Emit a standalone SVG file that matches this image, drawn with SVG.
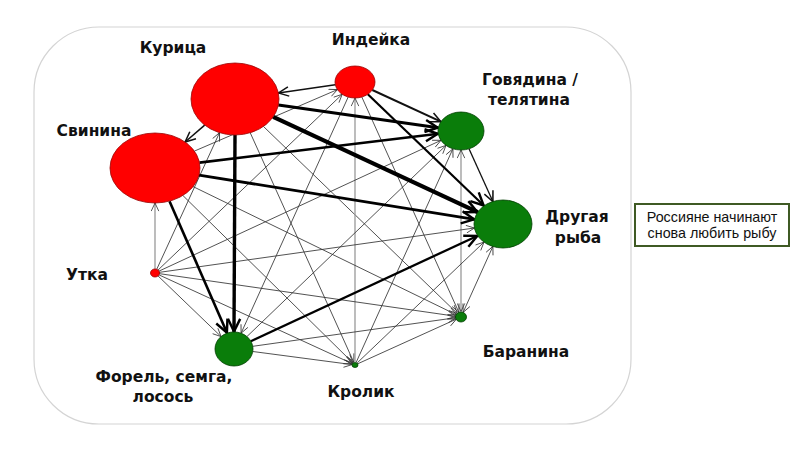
<svg xmlns="http://www.w3.org/2000/svg" width="800" height="450" viewBox="0 0 800 450">
<defs>
<style>
.lbl{font-family:"DejaVu Sans","Liberation Sans",sans-serif;font-weight:bold;font-size:15.5px;fill:#111;text-anchor:middle}
.note{font-family:"Liberation Sans",Arial,sans-serif;font-size:14.3px;fill:#111;text-anchor:middle}
.red{fill:#ff0000;stroke:#990000;stroke-width:0.8}
.grn{fill:#0a7d0a;stroke:#003d00;stroke-width:0.8}
.t{stroke:#333;stroke-width:0.85;fill:none;marker-end:url(#ms)}
.g{stroke:#999;stroke-width:1.3;fill:none;marker-end:url(#ms)}
.m{stroke:#111;fill:none;marker-end:url(#mm)}
.k{stroke:#000;fill:none;marker-end:url(#ml)}
</style>
<marker id="ms" viewBox="0 0 10 10" refX="9.5" refY="5" markerWidth="9" markerHeight="9" markerUnits="userSpaceOnUse" orient="auto-start-reverse"><path d="M0.5,0.8 L9.5,5 L0.5,9.2" fill="none" stroke="#333" stroke-width="0.9"/></marker>
<marker id="mm" viewBox="0 0 14 14" refX="13" refY="7" markerWidth="12" markerHeight="12" markerUnits="userSpaceOnUse" orient="auto"><path d="M1,1.5 L13,7 L1,12.5" fill="none" stroke="#111" stroke-width="1.8"/></marker>
<marker id="ml" viewBox="0 0 16 16" refX="15" refY="8" markerWidth="15" markerHeight="15" markerUnits="userSpaceOnUse" orient="auto"><path d="M1,1.5 L14.5,8 L1,14.5" fill="none" stroke="#000" stroke-width="2.6"/></marker>
</defs>
<rect width="800" height="450" fill="#fff"/>
<rect id="frame" x="34" y="27" width="597" height="397" rx="65" ry="65" fill="none" stroke="#d4d4d4" stroke-width="1.2"/>
<g id="connectors">
<line class="t" x1="263.4" y1="126.4" x2="457.4" y2="313.5"/>
<line class="t" x1="250.2" y1="132.7" x2="353.8" y2="362.3"/>
<line class="t" x1="156.7" y1="269.4" x2="219.5" y2="132.7"/>
<line class="t" x1="194.4" y1="151.1" x2="337.4" y2="89.6"/>
<line class="t" x1="157.9" y1="270.2" x2="342.2" y2="94.3"/>
<line class="t" x1="348.2" y1="97" x2="241.1" y2="333.2"/>
<line class="g" x1="355" y1="362" x2="355" y2="98"/>
<line class="t" x1="361.8" y1="97" x2="458.9" y2="312.4"/>
<line class="t" x1="158.6" y1="271.3" x2="441" y2="140.3"/>
<line class="t" x1="246.9" y1="336.6" x2="446" y2="145.4"/>
<line class="t" x1="356.2" y1="362.3" x2="452.9" y2="148.8"/>
<line class="g" x1="461" y1="311.5" x2="461" y2="150" style="marker-start:url(#ms)"/>
<line class="g" x1="155" y1="269" x2="155" y2="203"/>
<line class="t" x1="182.9" y1="195.5" x2="352.9" y2="362.9"/>
<line class="t" x1="193.1" y1="186.6" x2="456.5" y2="314.8"/>
<line class="t" x1="159" y1="272.4" x2="474.4" y2="228"/>
<line class="t" x1="357.2" y1="362.9" x2="484" y2="242.1"/>
<line class="t" x1="463.1" y1="312.4" x2="492.9" y2="246.4" style="marker-start:url(#ms)"/>
<line class="t" x1="157.9" y1="275.8" x2="221.1" y2="336.6"/>
<line class="t" x1="158.6" y1="274.7" x2="352.3" y2="363.7"/>
<line class="t" x1="159" y1="273.6" x2="456" y2="316.3"/>
<line class="t" x1="252.8" y1="351.5" x2="352" y2="364.6"/>
<line class="t" x1="252.8" y1="346.3" x2="456" y2="317.7"/>
<line class="t" x1="357.7" y1="363.8" x2="456.4" y2="319.1"/>
<line class="m" stroke-width="1.5" x1="335.3" y1="84.8" x2="278.4" y2="92.9"/>
<line class="m" stroke-width="1.5" x1="204.7" y1="125.1" x2="185.1" y2="142"/>
<line class="m" stroke-width="1.3" x1="469" y1="148.8" x2="492.9" y2="201.6"/>
<line class="m" stroke-width="2" x1="372.3" y1="90" x2="440.9" y2="121.7"/>
<line class="k" stroke-width="2.2" x1="367.8" y1="94.3" x2="484" y2="205.8"/>
<line class="k" stroke-width="2.3" x1="250.9" y1="341.2" x2="477.7" y2="235.7"/>
<line class="k" stroke-width="2.6" x1="199.5" y1="162.6" x2="438.3" y2="133.7"/>
<line class="k" stroke-width="2.8" x1="199" y1="175.1" x2="474.6" y2="219.4"/>
<line class="k" stroke-width="2.6" x1="169.5" y1="201.2" x2="227.1" y2="333.1"/>
<line class="k" stroke-width="3" x1="278.4" y1="105.1" x2="438.3" y2="127.8"/>
<line class="k" stroke-width="3.4" x1="235" y1="135" x2="234" y2="332"/>
<line class="k" stroke-width="4.2" x1="273.2" y1="116.9" x2="477.7" y2="212.2"/>
</g>
<g id="kuritsa"><ellipse class="red" cx="235" cy="99" rx="44" ry="36"/><text class="lbl" x="173" y="53">Курица</text></g>
<g id="indeyka"><ellipse class="red" cx="355" cy="82" rx="20" ry="16"/><text class="lbl" x="371" y="45">Индейка</text></g>
<g id="govyadina"><ellipse class="grn" cx="461" cy="131" rx="23" ry="19"/><text class="lbl" x="530" y="85">Говядина /</text><text class="lbl" x="529" y="105">телятина</text></g>
<g id="svinina"><ellipse class="red" cx="155" cy="168" rx="45" ry="35"/><text class="lbl" x="94" y="136">Свинина</text></g>
<g id="drugaya-ryba"><ellipse class="grn" cx="503" cy="224" rx="29" ry="24"/><text class="lbl" x="577" y="222">Другая</text><text class="lbl" x="578" y="243">рыба</text></g>
<g id="utka"><ellipse class="red" cx="155" cy="273" rx="4.5" ry="4"/><text class="lbl" x="87" y="280">Утка</text></g>
<g id="forel"><ellipse class="grn" cx="234" cy="349" rx="19" ry="17"/><text class="lbl" x="164" y="382">Форель, семга,</text><text class="lbl" x="163" y="402">лосось</text></g>
<g id="krolik"><ellipse class="grn" cx="355" cy="365" rx="3" ry="2.5"/><text class="lbl" x="361" y="397">Кролик</text></g>
<g id="baranina"><ellipse class="grn" cx="461" cy="317" rx="5.5" ry="5"/><text class="lbl" x="526" y="357">Баранина</text></g>
<g id="note"><rect x="635" y="204" width="154" height="42" fill="#fff" stroke="#3f5a24" stroke-width="2"/><text class="note" x="712" y="222">Россияне начинают</text><text class="note" x="712" y="238">снова любить рыбу</text></g>
</svg>
